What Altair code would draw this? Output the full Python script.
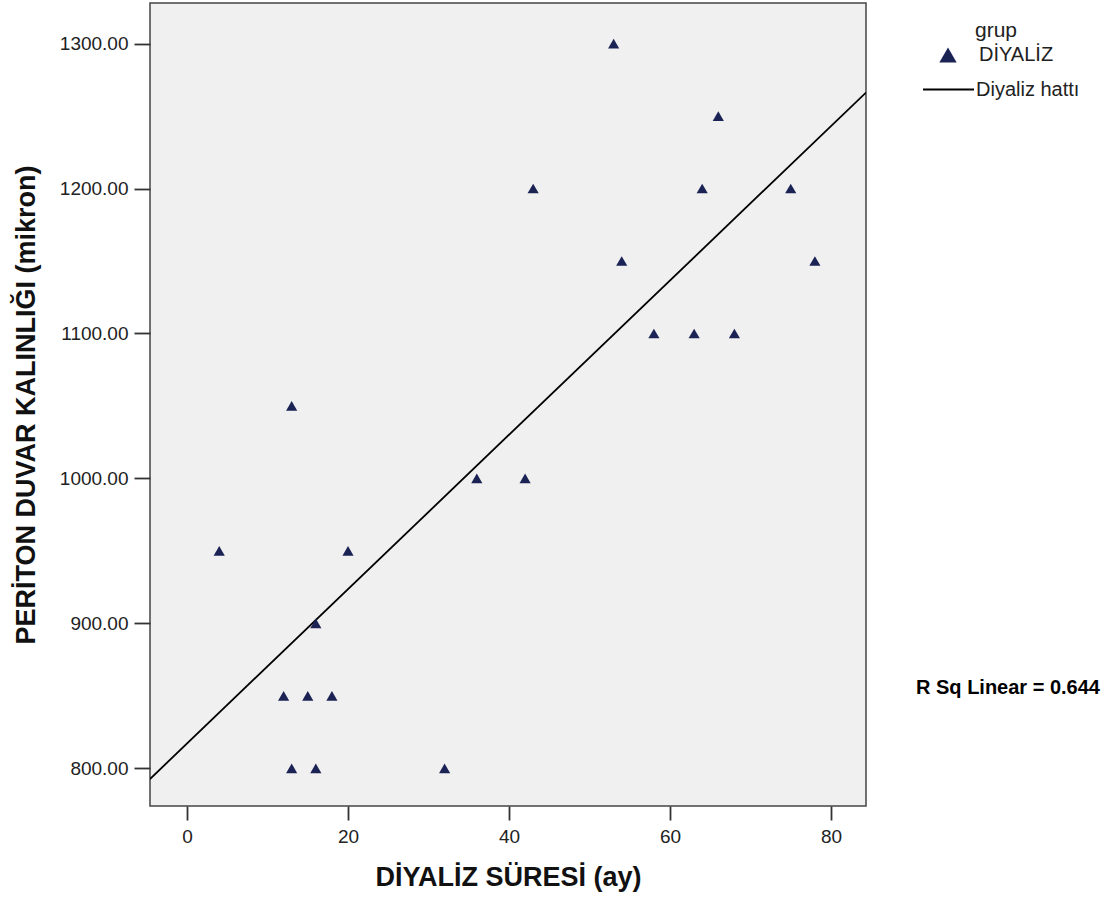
import altair as alt
import pandas as pd

# ---- data ----
months = [4, 13, 12, 15, 18, 13, 16, 16, 20, 32, 36, 42, 43, 53, 54, 58, 63, 64, 66, 68, 75, 78]
thickness = [950, 1050, 850, 850, 850, 800, 800, 900, 950, 800, 1000, 1000, 1200, 1300, 1150,
             1100, 1100, 1200, 1250, 1100, 1200, 1150]
group_name = "DİYALİZ"
line_name = "Diyaliz hattı"
x_ticks = [0, 20, 40, 60, 80]
y_ticks = [800, 900, 1000, 1100, 1200, 1300]
x_domain = [-4.6, 84.35]
y_domain = [774, 1328]
r2_label = "R Sq Linear = 0.644"
x_title = "DİYALİZ SÜRESİ (ay)"
y_title = "PERİTON DUVAR KALINLIĞI (mikron)"

df = pd.DataFrame({"sure": months, "kalinlik": thickness, "grup": [group_name] * len(months)})

FONT = "Liberation Sans"
MARK = "#1b2355"

x_enc = alt.X("sure:Q",
              scale=alt.Scale(domain=x_domain, nice=False, zero=False),
              axis=alt.Axis(values=x_ticks, title=x_title, tickSize=14, labelPadding=7,
                            titlePadding=18, format="d"))
y_enc = alt.Y("kalinlik:Q",
              scale=alt.Scale(domain=y_domain, nice=False, zero=False),
              axis=alt.Axis(values=y_ticks, format=".2f", title=y_title, tickSize=16,
                            labelPadding=6, titlePadding=19))

line = (
    alt.Chart(df)
    .transform_regression("sure", "kalinlik", extent=x_domain)
    .transform_calculate(lbl=f"'{line_name}'")
    .mark_line(strokeWidth=1.8, clip=True)
    .encode(
        x=x_enc,
        y=y_enc,
        color=alt.Color("lbl:N", scale=alt.Scale(range=["#000000"]),
                        legend=alt.Legend(title=None, orient="none", legendX=772, legendY=60,
                                          symbolType="stroke", symbolSize=2601,
                                          symbolStrokeWidth=2, labelOffset=1)),
    )
)

points = (
    alt.Chart(df)
    .mark_point(filled=True, size=125, color=MARK, opacity=1)
    .encode(
        x=x_enc,
        y=y_enc,
        shape=alt.Shape("grup:N", scale=alt.Scale(range=["triangle-up"]),
                        legend=alt.Legend(title="grup", orient="none", legendX=788, legendY=17,
                                          titleAnchor="middle", symbolSize=300,
                                          symbolFillColor=MARK, symbolStrokeColor=MARK,
                                          labelOffset=21, titlePadding=4)),
    )
)

text = (
    alt.Chart(pd.DataFrame({"t": [r2_label]}))
    .mark_text(font=FONT, fontSize=20, fontWeight="bold", align="center", baseline="middle",
               color="#000000")
    .encode(x=alt.value(858), y=alt.value(685), text="t:N")
)

chart = (
    alt.layer(line, points, text)
    .properties(width=716, height=803,
                autosize=alt.AutoSizeParams(type="none"),
                padding={"left": 150, "top": 3, "right": 245, "bottom": 93})
    .configure(background="white")
    .configure_view(fill="#F0F0F0", stroke="#444444", strokeWidth=1.5)
    .configure_axis(labelFont=FONT, labelFontSize=19, labelColor="#222222",
                    titleFont=FONT, titleFontSize=27, titleFontWeight="bold", titleColor="#111111",
                    tickColor="#333333", tickWidth=1.8, domain=False, grid=False)
    .configure_legend(labelFont=FONT, labelFontSize=20, titleFont=FONT, titleFontSize=21,
                      titleFontWeight="normal", padding=0, labelColor="#222222",
                      titleColor="#222222")
)

chart.save("out.html", embed_options={"renderer": "svg", "actions": False})
